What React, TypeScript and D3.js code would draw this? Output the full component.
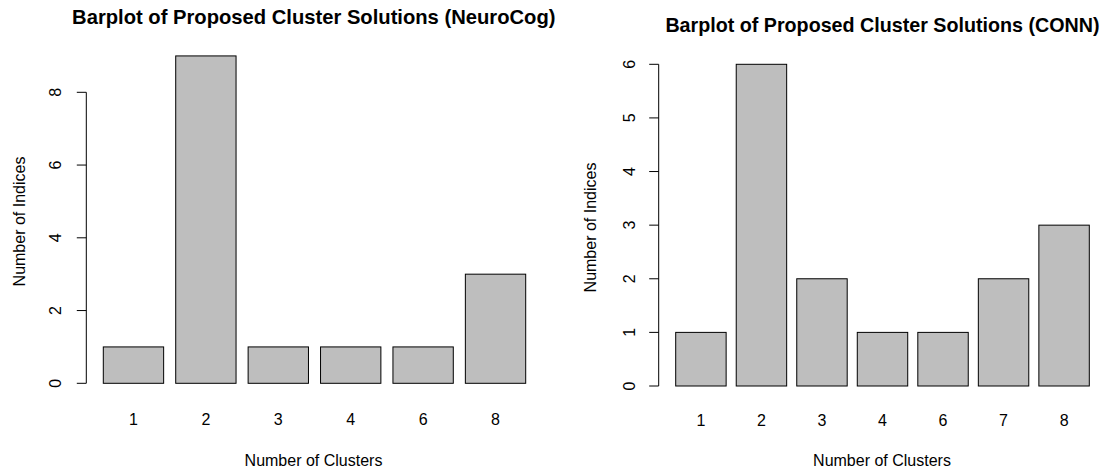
import React from "react";
import * as d3 from "d3";

const neuroTitle = "Barplot of Proposed Cluster Solutions (NeuroCog)";
const neuroCats = ["1", "2", "3", "4", "6", "8"];
const neuroCounts = [1, 9, 1, 1, 1, 3];
const neuroTicks = [0, 2, 4, 6, 8];

const connTitle = "Barplot of Proposed Cluster Solutions (CONN)";
const connCats = ["1", "2", "3", "4", "6", "7", "8"];
const connCounts = [1, 6, 2, 1, 1, 2, 3];
const connTicks = [0, 1, 2, 3, 4, 5, 6];

const xLabel = "Number of Clusters";
const yLabel = "Number of Indices";

const FONT = "'Liberation Sans', Arial, Helvetica, sans-serif";

type Layout = {
  x0: number; x1: number; y0: number; yTop: number;
  titleX: number; titleY: number; titleSize: number;
  tickLabelY: number; xLabelX: number; xLabelY: number;
  yTickLabelX: number; yLabelX: number; yLabelY: number;
};

function Panel({ title, cats, counts, ticks, L }: { title: string; cats: string[]; counts: number[]; ticks: number[]; L: Layout }) {
  const n = cats.length;
  const space = 0.2;
  const x = d3.scaleLinear().domain([space, n * (1 + space)]).range([L.x0, L.x1]);
  const maxT = ticks[ticks.length - 1];
  const y = d3.scaleLinear().domain([0, maxT]).range([L.y0, L.yTop]);
  const axisX = L.x0 - 17;
  return (
    <g fontFamily={FONT}>
      <text x={L.titleX} y={L.titleY} textAnchor="middle" fontWeight="bold" fontSize={L.titleSize} fill="#000">{title}</text>
      {counts.map((v, i) => {
        const left = x(space + i * (1 + space));
        const right = x((i + 1) * (1 + space));
        return (
          <rect key={i} x={left} y={y(v)} width={right - left} height={y(0) - y(v)} fill="#bebebe" stroke="#000" strokeWidth={1} />
        );
      })}
      {cats.map((c, i) => (
        <text key={"c" + i} x={x(space + i * (1 + space) + 0.5)} y={L.tickLabelY} textAnchor="middle" fontSize={16} fill="#000">{c}</text>
      ))}
      <line x1={axisX} x2={axisX} y1={y(0)} y2={y(maxT)} stroke="#000" strokeWidth={1} />
      {ticks.map((t) => (
        <g key={"t" + t}>
          <line x1={axisX - 9.5} x2={axisX} y1={y(t)} y2={y(t)} stroke="#000" strokeWidth={1} />
          <text transform={`translate(${L.yTickLabelX},${y(t)}) rotate(-90)`} textAnchor="middle" fontSize={16} fill="#000">{t}</text>
        </g>
      ))}
      <text x={L.xLabelX} y={L.xLabelY} textAnchor="middle" fontSize={16} fill="#000">{xLabel}</text>
      <text transform={`translate(${L.yLabelX},${L.yLabelY}) rotate(-90)`} textAnchor="middle" fontSize={16} fill="#000">{yLabel}</text>
    </g>
  );
}

const leftLayout: Layout = {
  x0: 103.3, x1: 525.7, y0: 383.3, yTop: 92.3,
  titleX: 313.8, titleY: 24, titleSize: 20.2,
  tickLabelY: 425, xLabelX: 313.5, xLabelY: 465.5,
  yTickLabelX: 61, yLabelX: 24.5, yLabelY: 221.5,
};

const rightLayout: Layout = {
  x0: 675.7, x1: 1089.3, y0: 386, yTop: 64.3,
  titleX: 882.5, titleY: 32, titleSize: 19.7,
  tickLabelY: 426, xLabelX: 882, xLabelY: 465.5,
  yTickLabelX: 635, yLabelX: 596, yLabelY: 227.5,
};

export default function App() {
  return (
    <svg width={1108} height={472} style={{ position: "absolute", left: 0, top: 0, background: "#fff" }}>
      <rect x={0} y={0} width={1108} height={472} fill="#fff" />
      <Panel title={neuroTitle} cats={neuroCats} counts={neuroCounts} ticks={neuroTicks} L={leftLayout} />
      <Panel title={connTitle} cats={connCats} counts={connCounts} ticks={connTicks} L={rightLayout} />
    </svg>
  );
}
